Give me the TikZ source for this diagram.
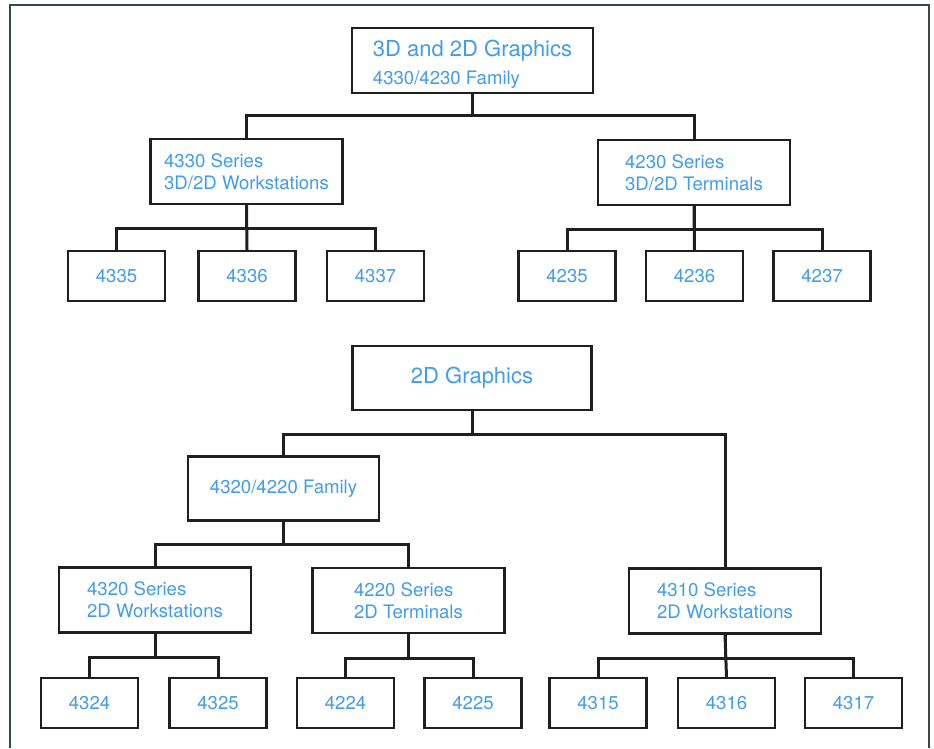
\documentclass[tikz,border=0pt]{standalone}
\usepackage{fontspec}
\setmainfont{TeX Gyre Heros}
\definecolor{labelblue}{RGB}{66,156,235}
\definecolor{inkgrey}{RGB}{30,32,32}
\definecolor{framegreen}{RGB}{60,72,66}

\begin{document}
\begin{tikzpicture}[x=1pt, y=-1pt,
    box/.style={rectangle, draw=inkgrey, line width=2.2pt, align=left, text=labelblue,
                font=\fontsize{18.6}{22}\selectfont, inner sep=0pt},
    midbox/.style={box, minimum width=192pt, minimum height=65pt},
    leafbox/.style={box, minimum width=97pt, minimum height=50pt},
    wire/.style={draw=inkgrey, line width=3pt}]
        \useasboundingbox (0,0) rectangle (934,748);
        \draw[framegreen, line width=2pt] (10,748) -- (10,5) -- (929,5) -- (929,748);

        % upper tree
        \node[box, minimum width=241pt, minimum height=65pt] at (472.5,60.5) (root3d)
            {{\fontsize{22}{26}\selectfont\rule{0pt}{25pt}3D and 2D Graphics}\\[6pt]4330/4230 Family};
        \node[midbox] at (246.5,171.5) (ser4330) {4330 Series\\3D/2D Workstations};
        \node[midbox] at (694,172.5) (ser4230) {4230 Series\\3D/2D Terminals};
        \node[leafbox] at (116.5,276) (m4335) {4335};
        \node[leafbox] at (247,276) (m4336) {4336};
        \node[leafbox] at (375.5,276) (m4337) {4337};
        \node[leafbox] at (567,276) (m4235) {4235};
        \node[leafbox] at (694.5,276) (m4236) {4236};
        \node[leafbox] at (822,276) (m4237) {4237};

        \draw[wire] (root3d.south) -- ++(0,21.5) -| (ser4330.north);
        \draw[wire] (root3d.south) -- ++(0,21.5) -| (ser4230.north);
        \draw[wire] (ser4330.south) -- ++(0,23) -| (m4335.north);
        \draw[wire] (ser4330.south) -- (m4336.north);
        \draw[wire] (ser4330.south) -- ++(0,23) -| (m4337.north);
        \draw[wire] (ser4230.south) -- ++(0,23) -| (m4235.north);
        \draw[wire] (ser4230.south) -- (m4236.north);
        \draw[wire] (ser4230.south) -- ++(0,23) -| (m4237.north);

        % lower tree
        \node[box, minimum width=239pt, minimum height=64pt] at (472,378) (root2d)
            {\fontsize{22}{26}\selectfont 2D Graphics};
        \node[box, minimum width=191pt, minimum height=64pt] at (283.5,488.5) (fam4320)
            {4320/4220 Family};
        \node[midbox] at (155,600) (ser4320) {4320 Series\\2D Workstations};
        \node[midbox] at (408.5,600.5) (ser4220) {4220 Series\\2D Terminals};
        \node[midbox] at (725,601) (ser4310) {4310 Series\\2D Workstations};
        \node[leafbox] at (89.5,703) (m4324) {4324};
        \node[leafbox] at (218,703) (m4325) {4325};
        \node[leafbox] at (345.5,703) (m4224) {4224};
        \node[leafbox] at (473,703) (m4225) {4225};
        \node[leafbox] at (598,703) (m4315) {4315};
        \node[leafbox] at (726.5,703) (m4316) {4316};
        \node[leafbox] at (853.5,703) (m4317) {4317};

        \draw[wire] (root2d.south) -- ++(0,23.5) -| (fam4320.north);
        \draw[wire] (root2d.south) -- ++(0,23.5) -| (ser4310.north);
        \draw[wire] (fam4320.south) -- ++(0,22.5) -| (ser4320.north);
        \draw[wire] (fam4320.south) -- ++(0,22.5) -| (ser4220.north);
        \draw[wire] (ser4320.south) -- ++(0,23.5) -| (m4324.north);
        \draw[wire] (ser4320.south) -- ++(0,23.5) -| (m4325.north);
        \draw[wire] (ser4220.south) -- ++(0,24) -| (m4224.north);
        \draw[wire] (ser4220.south) -- ++(0,24) -| (m4225.north);
        \draw[wire] (ser4310.south) -- ++(0,24) -| (m4315.north);
        \draw[wire] (ser4310.south) -- (m4316.north);
        \draw[wire] (ser4310.south) -- ++(0,24) -| (m4317.north);

    \end{tikzpicture}
\end{document}
